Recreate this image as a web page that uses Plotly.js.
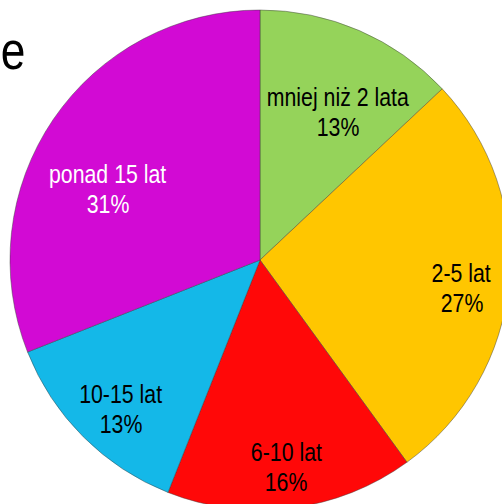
<!DOCTYPE html>
<html>
<head>
<meta charset="utf-8">
<script src="https://cdn.plot.ly/plotly-3.0.1.min.js"></script>
<style>
  html, body { margin: 0; padding: 0; overflow: hidden; background: #fff; }
  #chart { position: absolute; left: 0; top: 0; width: 520px; height: 520px; }
  /* the source chart uses a condensed face; squeeze the annotation text */
  #chart .annotation-text { transform-box: fill-box; transform-origin: center; transform: scaleX(0.82); }
</style>
</head>
<body>
<div id="chart"></div>
<script>
// Slice data, clockwise from 12 o'clock
const labels = ['mniej niż 2 lata', '2-5 lat', '6-10 lat', '10-15 lat', 'ponad 15 lat'];
const shares = [13, 27, 16, 13, 31];
const sliceColors = ['#95D35A', '#FFC600', '#FF0808', '#14B8E8', '#D20AD4'];
const textColors = ['#000000', '#000000', '#000000', '#000000', '#FFFFFF'];
// Fragment of the cut-off title visible at the top left
const titleFragment = 'e';

// label placement inside each slice: [angle shift from mid-angle (deg), radius fraction]
const labelPlace = [[4.4, 0.67], [2.5, 0.815], [0, 0.834], [-2, 0.815], [-9.2, 0.67]];

const FONT = '"Liberation Sans", Arial, sans-serif';

const trace = {
    type: 'pie',
    labels: labels,
    values: shares,
    sort: false,
    direction: 'clockwise',
    rotation: 0,
    marker: {
        colors: sliceColors,
        line: { color: 'rgba(60,60,60,0.45)', width: 1 }
    },
    textinfo: 'none',
    showlegend: false,
    hoverinfo: 'label+percent'
};

// build the slice labels from the shares (mid-angle of each slice)
const total = shares.reduce((a, b) => a + b, 0);
const annotations = [];
let cum = 0;
shares.forEach((v, i) => {
    const mid = (cum + v / 2) / total * 360;
    cum += v;
    const ang = (mid + labelPlace[i][0]) * Math.PI / 180;
    const r = 0.5 * labelPlace[i][1];
    const x = 0.5 + r * Math.sin(ang);
    const y = 0.5 + r * Math.cos(ang);
    const pct = Math.round(v / total * 100) + '%';
    [[labels[i], 15], [pct, -15]].forEach(([txt, shift]) => {
        annotations.push({
            text: txt,
            xref: 'paper', yref: 'paper',
            x: x, y: y, yshift: shift,
            xanchor: 'center', yanchor: 'middle',
            showarrow: false,
            font: { family: FONT, size: 26, color: textColors[i] }
        });
    });
});

annotations.push({
    text: titleFragment,
    xref: 'paper', yref: 'paper',
    x: 0.005, y: 0.92,
    xanchor: 'center', yanchor: 'middle',
    showarrow: false,
    font: { family: FONT, size: 54, color: '#000000' }
});

const layout = {
    width: 520,
    height: 520,
    margin: { l: 10, r: 10, t: 10, b: 10 },
    paper_bgcolor: '#ffffff',
    showlegend: false,
    annotations: annotations
};

Plotly.newPlot('chart', [trace], layout, { displayModeBar: false, staticPlot: true });
</script>
</body>
</html>
